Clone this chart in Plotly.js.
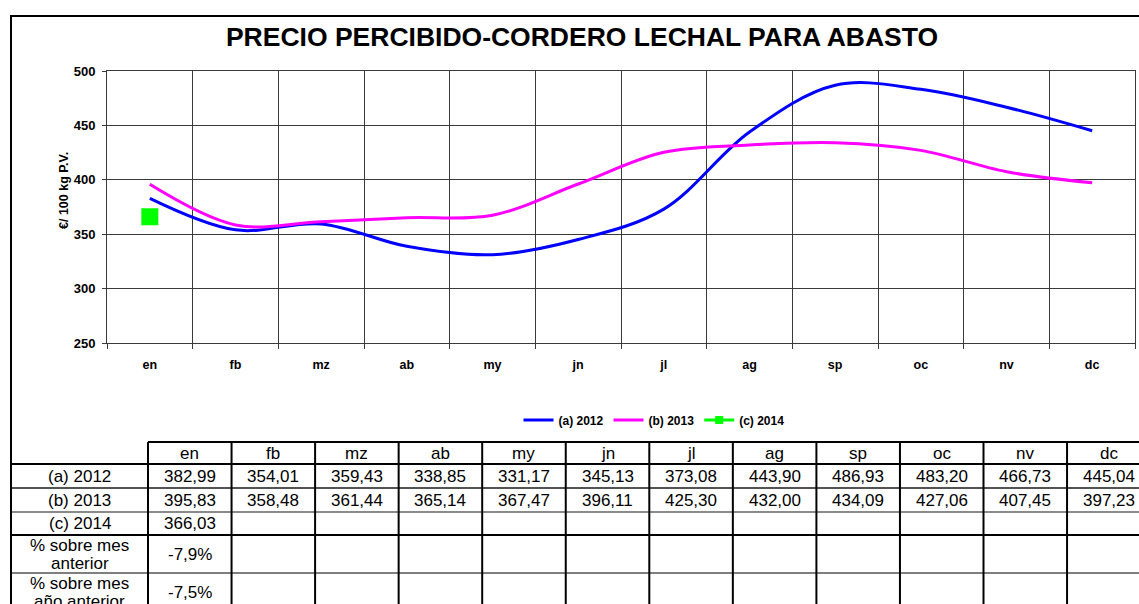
<!DOCTYPE html>
<html>
<head>
<meta charset="utf-8">
<script src="https://cdn.plot.ly/plotly-3.0.1.min.js"></script>
<style>
  html, body { margin: 0; padding: 0; background: #fff; }
  #chart { width: 1139px; height: 604px; }
</style>
</head>
<body>
<div id="chart"></div>
<script>
// Monthly prices, €/100 kg live weight
const months = ['en', 'fb', 'mz', 'ab', 'my', 'jn', 'jl', 'ag', 'sp', 'oc', 'nv', 'dc'];
const price2012 = [382.99, 354.01, 359.43, 338.85, 331.17, 345.13, 373.08, 443.90, 486.93, 483.20, 466.73, 445.04];
const price2013 = [395.83, 358.48, 361.44, 365.14, 367.47, 396.11, 425.30, 432.00, 434.09, 427.06, 407.45, 397.23];
const price2014 = [366.03];
const seriesNames = ['(a) 2012', '(b) 2013', '(c) 2014'];
const pctRowLabels = [['% sobre mes', 'anterior'], ['% sobre mes', 'año anterior']];
const yTicks = [250, 300, 350, 400, 450, 500];

// Page geometry in pixels
const PLOT = { left: 107, top: 71, right: 1135, bottom: 343 };
const px = x => (x - PLOT.left) / (PLOT.right - PLOT.left);
const py = y => (PLOT.bottom - y) / (PLOT.bottom - PLOT.top);

const FONT = 'Liberation Sans, Arial, Helvetica, sans-serif';
const GRID = '#3a3a3a';
const GREEN = '#00FF00';

// Number formatting with decimal comma
const fmt = v => v.toFixed(2).replace('.', ',');
const pct = (a, b) => ((a / b - 1) * 100).toFixed(1).replace('.', ',') + '%';

// January 2014 against December 2013 and against January 2013
const pctPrevMonth = [pct(price2014[0], price2013[11])];
const pctPrevYear = [pct(price2014[0], price2013[0])];

const traces = [
  {
    x: months, y: price2012, name: seriesNames[0], type: 'scatter', mode: 'lines',
    line: { color: '#0000FF', width: 3, shape: 'spline', smoothing: 1 }
  },
  {
    x: months, y: price2013, name: seriesNames[1], type: 'scatter', mode: 'lines',
    line: { color: '#FF00FF', width: 3, shape: 'spline', smoothing: 1 }
  },
  {
    x: months.slice(0, price2014.length), y: price2014, name: seriesNames[2], type: 'scatter',
    mode: 'lines+markers', showlegend: false, legendgroup: 'c',
    line: { color: GREEN, width: 3 },
    marker: { symbol: 'square', size: 17, color: GREEN }
  },
  // legend key for 2014 drawn with a smaller square
  {
    x: [null], y: [null], name: seriesNames[2], type: 'scatter', legendgroup: 'c',
    mode: 'lines+markers',
    line: { color: GREEN, width: 3 },
    marker: { symbol: 'square', size: 8, color: GREEN }
  }
];

// ---- data table under the chart ----
const TABLE = {
  frameLeft: 11,
  firstCol: 148,
  colW: 83.55,
  rows: [442, 464, 488, 512, 535, 573, 611],
  farRight: 1160,
  farBottom: 640
};
const colCenter = i => TABLE.firstCol + TABLE.colW * (i + 0.5);
const labelCenter = (TABLE.frameLeft + TABLE.firstCol) / 2;
const rowMid = r => (TABLE.rows[r] + TABLE.rows[r + 1]) / 2;

const shapes = [];
const hLine = (y, x0, color, w) => shapes.push({
  type: 'line', xref: 'paper', yref: 'paper',
  x0: px(x0), x1: px(TABLE.farRight), y0: py(y), y1: py(y),
  line: { color: color, width: w }
});
hLine(TABLE.rows[0], TABLE.firstCol, '#000', 2);
hLine(TABLE.rows[1], TABLE.frameLeft, '#000', 2);
hLine(TABLE.rows[2], TABLE.frameLeft, '#1a1a1a', 1.5);
hLine(TABLE.rows[3], TABLE.frameLeft, '#8a8a8a', 2);
hLine(TABLE.rows[4], TABLE.frameLeft, '#000', 2);
hLine(TABLE.rows[5], TABLE.frameLeft, '#555', 1.5);
for (let k = 0; k <= months.length; k++) {
  const x = TABLE.firstCol + TABLE.colW * k;
  shapes.push({
    type: 'line', xref: 'paper', yref: 'paper',
    x0: px(x), x1: px(x), y0: py(TABLE.rows[0]), y1: py(TABLE.farBottom),
    line: { color: '#000', width: 2 }
  });
}
// outer frame of the whole sheet object
shapes.push({
  type: 'rect', xref: 'paper', yref: 'paper',
  x0: px(11), x1: px(TABLE.farRight), y0: py(16), y1: py(TABLE.farBottom),
  line: { color: '#000', width: 2 }, fillcolor: 'rgba(0,0,0,0)'
});

const annotations = [];
const cell = (x, y, text) => annotations.push({
  xref: 'paper', yref: 'paper', x: px(x), y: py(y), text: text,
  showarrow: false, xanchor: 'center', yanchor: 'middle',
  font: { family: FONT, size: 17, color: '#000' }
});
months.forEach((m, i) => cell(colCenter(i), rowMid(0), m));
price2012.forEach((v, i) => cell(colCenter(i), rowMid(1), fmt(v)));
price2013.forEach((v, i) => cell(colCenter(i), rowMid(2), fmt(v)));
price2014.forEach((v, i) => cell(colCenter(i), rowMid(3), fmt(v)));
pctPrevMonth.forEach((v, i) => cell(colCenter(i), rowMid(4), v));
pctPrevYear.forEach((v, i) => cell(colCenter(i), rowMid(5), v));
seriesNames.forEach((n, r) => cell(labelCenter, rowMid(r + 1), n));
pctRowLabels.forEach((lines, j) => {
  const mid = rowMid(4 + j);
  cell(labelCenter, mid - 9, lines[0]);
  cell(labelCenter, mid + 9, lines[1]);
});

// y-axis title
annotations.push({
  xref: 'paper', yref: 'paper', x: px(64), y: py(191), text: '€/ 100 kg P.V.',
  textangle: -90, showarrow: false, xanchor: 'center', yanchor: 'middle',
  font: { family: FONT, size: 12.5, color: '#000', weight: 'bold' }
});

const layout = {
  width: 1139, height: 604,
  margin: { l: PLOT.left, r: 1139 - PLOT.right, t: PLOT.top, b: 604 - PLOT.bottom, pad: 0 },
  paper_bgcolor: '#fff', plot_bgcolor: '#fff',
  font: { family: FONT, color: '#000' },
  title: {
    text: 'PRECIO PERCIBIDO-CORDERO LECHAL PARA ABASTO',
    font: { family: FONT, size: 26.5, color: '#000', weight: 'bold' },
    xref: 'container', x: 582 / 1139, xanchor: 'center',
    yref: 'container', y: 1 - 37 / 604, yanchor: 'middle'
  },
  xaxis: {
    type: 'category', categoryorder: 'array', categoryarray: months,
    range: [-0.5, months.length - 0.5],
    tickson: 'boundaries', ticks: 'outside', ticklen: 5, tickcolor: GRID, tickwidth: 1,
    showgrid: true, gridcolor: GRID, gridwidth: 1,
    showline: true, linecolor: GRID, linewidth: 1, mirror: true,
    tickfont: { family: FONT, size: 12.5, color: '#000', weight: 'bold' },
    ticklabelstandoff: 10,
    zeroline: false, fixedrange: true
  },
  yaxis: {
    range: [250, 500], tickvals: yTicks, ticktext: yTicks.map(String),
    ticks: 'outside', ticklen: 4, tickcolor: GRID, tickwidth: 1,
    showgrid: true, gridcolor: GRID, gridwidth: 1,
    showline: true, linecolor: GRID, linewidth: 1, mirror: true,
    tickfont: { family: FONT, size: 13, color: '#000', weight: 'bold' },
    ticklabelstandoff: 4,
    zeroline: false, fixedrange: true
  },
  showlegend: true,
  legend: {
    orientation: 'h', xref: 'paper', yref: 'paper',
    x: px(654), xanchor: 'center', y: py(420), yanchor: 'middle',
    font: { family: FONT, size: 12, color: '#000', weight: 'bold' },
    itemwidth: 30, tracegroupgap: 0, bgcolor: 'rgba(0,0,0,0)'
  },
  shapes: shapes,
  annotations: annotations
};

Plotly.newPlot('chart', traces, layout, { displayModeBar: false, staticPlot: true });
</script>
</body>
</html>
